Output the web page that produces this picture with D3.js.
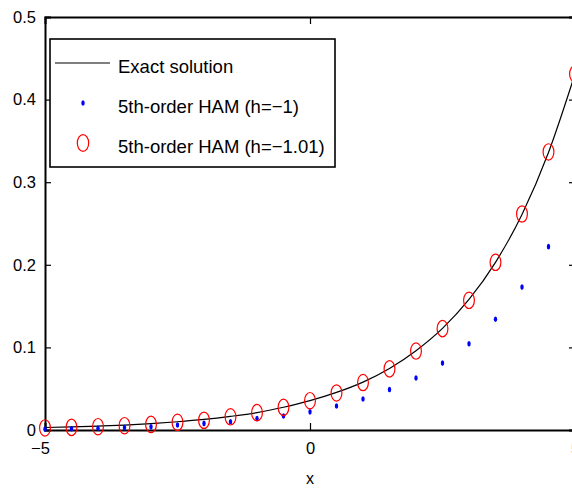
<!DOCTYPE html>
<html>
<head>
<meta charset="utf-8">
<script src="https://cdn.jsdelivr.net/npm/d3@7"></script>
<style>
  body { margin: 0; background: #fff; }
  svg { display: block; font-family: "Liberation Sans", Arial, Helvetica, sans-serif; }
</style>
</head>
<body>
<div id="chart"></div>
<script>
(function(){
    "use strict";

    // sample points along x
    var xValues = [-5, -4.5, -4, -3.5, -3, -2.5, -2, -1.5, -1, -0.5, 0, 0.5, 1, 1.5, 2, 2.5, 3, 3.5, 4, 4.5, 5];
    // exact solution
    var exactValues = [0.0030, 0.0037, 0.0048, 0.0060, 0.0078, 0.0100, 0.0128, 0.0165, 0.0210, 0.0275, 0.0355,
                       0.0455, 0.0580, 0.0745, 0.0960, 0.1230, 0.1580, 0.2030, 0.2610, 0.3360, 0.4310];
    // 5th-order HAM, h = -1 (blue dots)
    var hamValues1 = [0.0010, 0.0016, 0.0020, 0.0030, 0.0040, 0.0060, 0.0080, 0.0100, 0.0140, 0.0170, 0.0220,
                      0.0290, 0.0375, 0.0490, 0.0630, 0.0810, 0.1045, 0.1340, 0.1730, 0.2220, 0.2850];
    // 5th-order HAM, h = -1.01 (red circles)
    var hamValues101 = [0.0025, 0.0032, 0.0040, 0.0052, 0.0068, 0.0093, 0.0118, 0.0160, 0.0210, 0.0274, 0.0355,
                        0.0448, 0.0575, 0.0740, 0.0956, 0.1227, 0.1570, 0.2030, 0.2615, 0.3366, 0.4310];
    var xTicks = [-5, 0, 5];
    var yTicks = [0, 0.1, 0.2, 0.3, 0.4, 0.5];
    var legendLabels = ["Exact solution", "5th-order HAM (h=\u22121)", "5th-order HAM (h=\u22121.01)"];

    var width = 572, height = 488;
    var left = 45, right = 575, top = 17, bottom = 430;

    var svg = d3.select("#chart").append("svg")
        .attr("width", width)
        .attr("height", height);

    var x = d3.scaleLinear().domain([-5, 5]).range([left, right]);
    var y = d3.scaleLinear().domain([0, 0.5]).range([bottom, top]);

    var fmt = function(d){ return d === 0 ? "0" : String(d).replace("-", "\u2212"); };

    // axes (ticks pointing inward, matlab style)
    var gx = svg.append("g").attr("transform", "translate(0," + bottom + ")")
        .call(d3.axisBottom(x).tickValues(xTicks).tickSize(-7).tickPadding(12).tickFormat(fmt));
    var gxTop = svg.append("g").attr("transform", "translate(0," + top + ")")
        .call(d3.axisTop(x).tickValues(xTicks).tickSize(-7).tickFormat(""));
    var gy = svg.append("g").attr("transform", "translate(" + left + ",0)")
        .call(d3.axisLeft(y).tickValues(yTicks).tickSize(-6).tickPadding(9).tickFormat(fmt));
    var gyRight = svg.append("g").attr("transform", "translate(" + right + ",0)")
        .call(d3.axisRight(y).tickValues(yTicks).tickSize(-6).tickFormat(""));

    [gx, gxTop, gy, gyRight].forEach(function(g){
        g.select(".domain").attr("stroke", "#000").attr("stroke-width", 2);
        g.selectAll(".tick line").attr("stroke", "#000").attr("stroke-width", 1.2);
        g.selectAll(".tick text").attr("fill", "#000").style("font-size", "16.5px").style("font-family", null);
    });
    gx.selectAll(".tick text").filter(function(d){ return d === -5; }).attr("dx", "-5");

    svg.append("text")
        .attr("x", x(0)).attr("y", 484)
        .attr("text-anchor", "middle")
        .style("font-size", "16px")
        .text("x");

    // exact solution
    var line = d3.line()
        .x(function(d, i){ return x(xValues[i]); })
        .y(function(d){ return y(d); })
        .curve(d3.curveMonotoneX);
    svg.append("path")
        .datum(exactValues)
        .attr("d", line)
        .attr("fill", "none")
        .attr("stroke", "#000")
        .attr("stroke-width", 1.2);

    // blue dots
    svg.append("g").selectAll("ellipse")
        .data(hamValues1)
        .enter().append("ellipse")
        .attr("cx", function(d, i){ return x(xValues[i]); })
        .attr("cy", function(d){ return y(d); })
        .attr("rx", 1.7).attr("ry", 2.8)
        .attr("fill", "#0000ff");

    // red circles
    svg.append("g").selectAll("ellipse")
        .data(hamValues101)
        .enter().append("ellipse")
        .attr("cx", function(d, i){ return x(xValues[i]); })
        .attr("cy", function(d){ return y(d); })
        .attr("rx", 5.4).attr("ry", 8.2)
        .attr("fill", "none")
        .attr("stroke", "#ff0000")
        .attr("stroke-width", 1.2);

    // legend
    var legend = svg.append("g");
    legend.append("rect")
        .attr("x", 50).attr("y", 39)
        .attr("width", 285).attr("height", 128)
        .attr("fill", "#fff")
        .attr("stroke", "#000")
        .attr("stroke-width", 1.6);
    var rowY = [63, 103, 143];
    legend.append("line")
        .attr("x1", 55).attr("x2", 110)
        .attr("y1", rowY[0]).attr("y2", rowY[0])
        .attr("stroke", "#000").attr("stroke-width", 1.2);
    legend.append("ellipse")
        .attr("cx", 83).attr("cy", rowY[1])
        .attr("rx", 1.7).attr("ry", 2.8)
        .attr("fill", "#0000ff");
    legend.append("ellipse")
        .attr("cx", 83).attr("cy", rowY[2])
        .attr("rx", 5.7).attr("ry", 8.3)
        .attr("fill", "none")
        .attr("stroke", "#ff0000").attr("stroke-width", 1.2);
    legend.selectAll("text.lbl")
        .data(legendLabels)
        .enter().append("text")
        .attr("class", "lbl")
        .attr("x", 118)
        .attr("y", function(d, i){ return rowY[i] + 9.5; })
        .style("font-size", "18.5px")
        .text(function(d){ return d; });
})();
</script>
</body>
</html>
